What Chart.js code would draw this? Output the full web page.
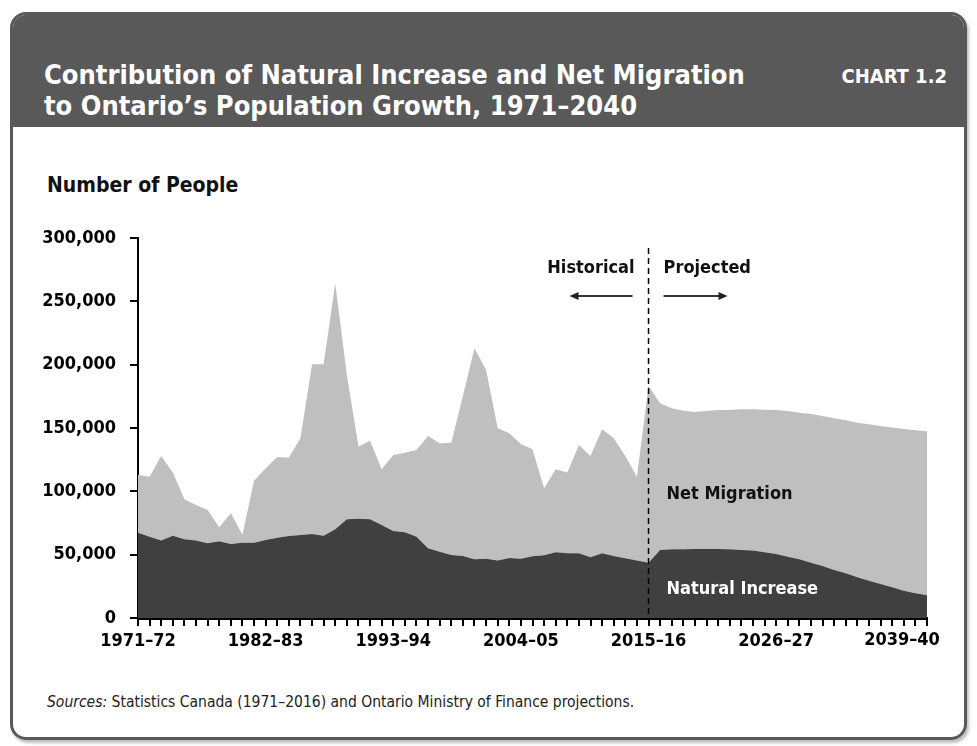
<!DOCTYPE html>
<html>
<head>
<meta charset="utf-8">
<script src="https://cdn.jsdelivr.net/npm/chart.js@4.4.1/dist/chart.umd.min.js"></script>
<style>
    body { margin: 0; background: #fff; font-family: "DejaVu Sans Condensed", "Liberation Sans", sans-serif; }
    .card {
        position: absolute; left: 10px; top: 12px; width: 951px; height: 722px;
        border: 3px solid #595959; border-radius: 16px; overflow: hidden;
        box-shadow: 2px 3px 3px rgba(0,0,0,0.25);
    }
    .header { position: absolute; left: 0; top: 0; right: 0; height: 112px; background: #595959; color: #fff; }
    .title { position: absolute; left: 31px; top: 44px; font-size: 27px; line-height: 31px; font-weight: bold; }
    .chart-no { position: absolute; right: 17px; top: 49px; font-size: 20px; font-weight: bold; }
    .ylabel { position: absolute; left: 47px; top: 173px; font-size: 21px; font-weight: bold; color: #111; }
    .sources { position: absolute; left: 47px; top: 693px; font-size: 15.5px; color: #222; }
    #chart { position: absolute; left: 0; top: 190px; }
</style>
</head>
<body>
<div class="card">
    <div class="header">
        <div class="title">Contribution of Natural Increase and Net Migration<br>to Ontario’s Population Growth, 1971–2040</div>
        <div class="chart-no">CHART 1.2</div>
    </div>
</div>
<div class="ylabel">Number of People</div>
<div class="sources"><i>Sources:</i> Statistics Canada (1971–2016) and Ontario Ministry of Finance projections.</div>
<canvas id="chart" width="977" height="480"></canvas>

<script>
    // fiscal years 1971–72 ... 2039–40
    const years = [];
    for (let y = 1971; y <= 2039; y++) {
        years.push(y + '–' + String((y + 1) % 100).padStart(2, '0'));
    }
    const labelledYears = ['1971–72', '1982–83', '1993–94', '2004–05', '2015–16', '2026–27'];
    const lastLabel = '2039–40';
    const projectionStart = '2015–16';

    const naturalIncrease = [
        67400, 64200, 61100, 65000, 62100, 61100, 59000, 60500, 58400, 59500,
        59500, 61600, 63400, 64700, 65500, 66300, 65000, 70000, 77900, 78400,
        77900, 73400, 68700, 67600, 64200, 55000, 52400, 49700, 49000, 46300,
        46800, 45300, 47400, 46800, 48700, 49500, 51900, 51100, 51100, 47900,
        51100, 49000, 47100, 45300, 43700, 53700, 54200, 54300, 54500, 54500,
        54400, 54200, 53700, 53200, 51900, 50500, 48400, 46300, 43700, 41100,
        37900, 35300, 32100, 29500, 26800, 24200, 21600, 19500, 17900
    ];
    const netMigration = [
        45500, 47400, 66800, 49800, 31600, 28100, 26300, 11100, 24200, 6300,
        48900, 56600, 63700, 61900, 76400, 134000, 135300, 194200, 114100, 56900,
        62100, 44000, 60000, 62900, 68500, 88700, 85500, 88700, 126300, 166600,
        149000, 104500, 98400, 90600, 84600, 52900, 65500, 63700, 85500, 80000,
        97900, 92900, 80800, 66300, 139500, 115800, 111300, 109400, 108200, 109000,
        109800, 110000, 111100, 111600, 112600, 113700, 115000, 115800, 117400, 118400,
        119800, 120800, 122100, 123400, 124800, 126100, 127600, 128700, 129500
    ];

    const FONT = '"DejaVu Sans Condensed", "Liberation Sans", sans-serif';

    // dashed divider, Historical / Projected captions, area labels, last x label
    const annotations = {
        id: 'annotations',
        afterDraw(chart) {
            const { ctx, chartArea, scales } = chart;
            const x = scales.x.getPixelForValue(years.indexOf(projectionStart));
            ctx.save();

            ctx.strokeStyle = '#000';
            ctx.lineWidth = 1.5;
            ctx.setLineDash([6, 4]);
            ctx.beginPath();
            ctx.moveTo(x, chartArea.top + 10);
            ctx.lineTo(x, chartArea.bottom);
            ctx.stroke();
            ctx.setLineDash([]);

            ctx.font = 'bold 18px ' + FONT;
            ctx.fillStyle = '#111';
            ctx.textBaseline = 'middle';
            ctx.textAlign = 'right';
            ctx.fillText('Historical', x - 14, chartArea.top + 30);
            ctx.textAlign = 'left';
            ctx.fillText('Projected', x + 15, chartArea.top + 30);

            const ay = chartArea.top + 58;
            ctx.strokeStyle = '#333';
            ctx.fillStyle = '#222';
            ctx.lineWidth = 2;
            ctx.beginPath();
            ctx.moveTo(x - 16, ay); ctx.lineTo(x - 72, ay);
            ctx.moveTo(x + 15, ay); ctx.lineTo(x + 72, ay);
            ctx.stroke();
            ctx.beginPath();
            ctx.moveTo(x - 79, ay); ctx.lineTo(x - 70, ay - 4); ctx.lineTo(x - 70, ay + 4); ctx.closePath();
            ctx.moveTo(x + 79, ay); ctx.lineTo(x + 70, ay - 4); ctx.lineTo(x + 70, ay + 4); ctx.closePath();
            ctx.fill();

            ctx.font = 'bold 18px ' + FONT;
            ctx.textAlign = 'left';
            ctx.fillStyle = '#111';
            ctx.fillText('Net Migration', x + 18, scales.y.getPixelForValue(98000));
            ctx.fillStyle = '#fff';
            ctx.fillText('Natural Increase', x + 18, scales.y.getPixelForValue(22500));

            // last tick label sits left of its tick, as in the original
            ctx.font = 'bold 18px ' + FONT;
            ctx.fillStyle = '#000';
            ctx.textAlign = 'center';
            ctx.textBaseline = 'top';
            const lx = scales.x.getPixelForValue(years.indexOf(lastLabel));
            ctx.fillText(lastLabel, lx - 25, scales.x.top + 13);
            ctx.restore();
        }
    };

    new Chart(document.getElementById('chart'), {
        type: 'line',
        data: {
            labels: years,
            datasets: [{
                label: 'Natural Increase',
                data: naturalIncrease,
                backgroundColor: '#404040',
                borderWidth: 0,
                pointRadius: 0,
                fill: 'origin'
            }, {
                label: 'Net Migration',
                data: netMigration,
                backgroundColor: '#bfbfbf',
                borderWidth: 0,
                pointRadius: 0,
                fill: '-1'
            }]
        },
        options: {
            responsive: false,
            animation: false,
            layout: { padding: { top: 48, right: 50, left: 0, bottom: 0 } },
            plugins: { legend: { display: false }, tooltip: { enabled: false } },
            scales: {
                x: {
                    offset: false,
                    afterFit: s => { s.height = 52; },
                    grid: { display: true, drawOnChartArea: false, drawTicks: true, tickLength: 8, color: '#000', lineWidth: 2 },
                    border: { display: true, color: '#000', width: 3 },
                    ticks: {
                        autoSkip: false, maxRotation: 0, padding: 5, color: '#000',
                        font: { family: FONT, size: 18, weight: 'bold' },
                        callback: (v, i) => labelledYears.includes(years[i]) ? years[i] : ''
                    }
                },
                y: {
                    stacked: true,
                    min: 0, max: 300000,
                    afterFit: s => { s.width = 138; },
                    grid: { display: true, drawOnChartArea: false, drawTicks: true, tickLength: 8, color: '#000', lineWidth: 2 },
                    border: { display: true, color: '#000', width: 2 },
                    ticks: {
                        stepSize: 50000, padding: 14, color: '#000',
                        font: { family: FONT, size: 18, weight: 'bold' },
                        callback: v => v.toLocaleString('en-US')
                    }
                }
            }
        },
        plugins: [annotations]
    });
</script>
</body>
</html>
